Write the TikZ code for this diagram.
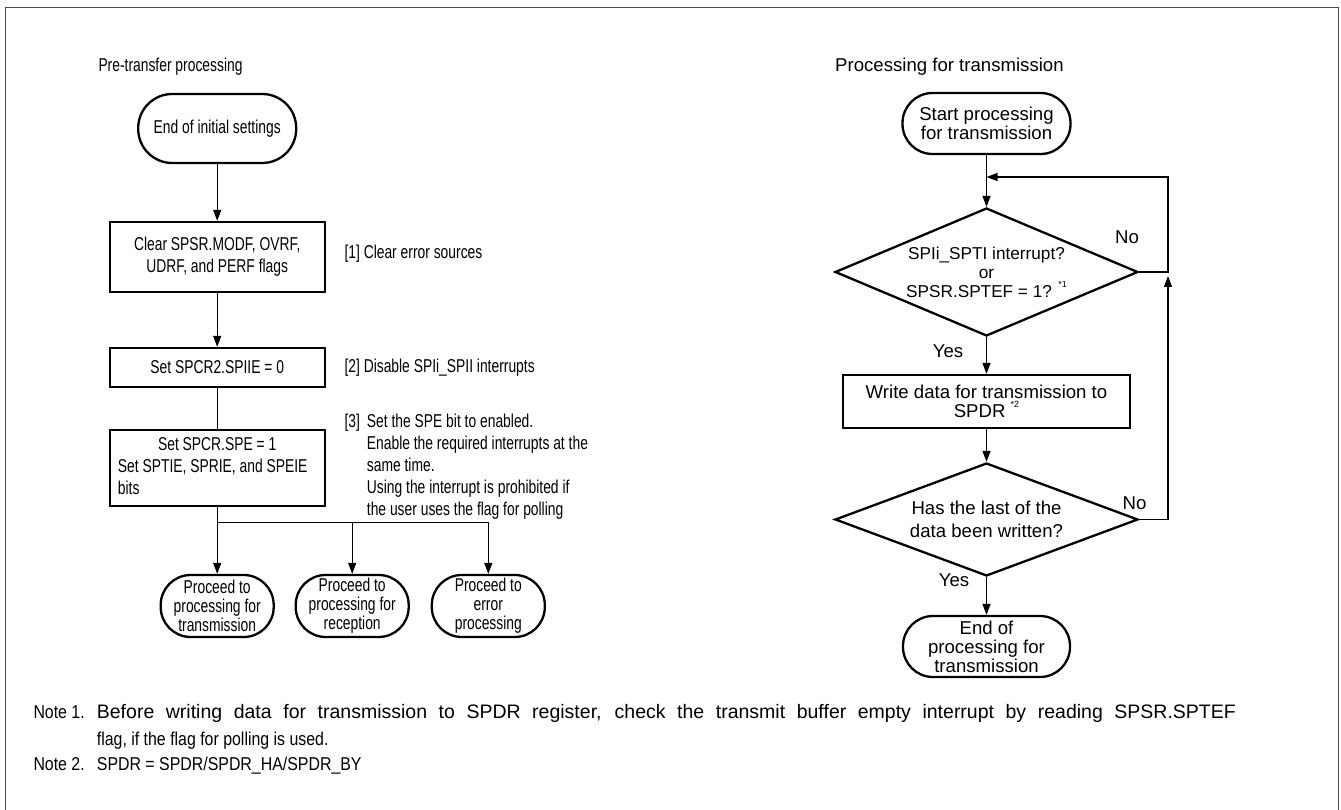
\documentclass[tikz,border=0pt]{standalone}
\usepackage{fontspec}
\setmainfont{Liberation Sans}
\newfontfamily\narrowfont[FakeStretch=0.745]{Liberation Sans}
\newfontfamily\notefont[FakeStretch=0.855]{Liberation Sans}
\usepackage{tikz}
\usetikzlibrary{calc, positioning, arrows.meta, shapes.geometric}
\definecolor{ink}{HTML}{000000}
\definecolor{rim}{HTML}{4A4A4A}
\newcommand{\fnmark}[1]{\raisebox{0.55em}{\fontsize{9}{9}\selectfont #1}}

\begin{document}
\begin{tikzpicture}[x=1pt, y=-1pt, font=\fontsize{18.6}{22}\selectfont,
    >={Triangle[length=11pt,width=8pt]},
    box/.style={draw=ink, line width=2.3pt, inner sep=0pt, align=center},
    term/.style={draw=ink, line width=2.3pt, rounded corners=30pt, inner sep=0pt, align=center},
    decide/.style={draw=ink, diamond, line width=2.3pt, inner sep=0pt, minimum width=303pt, align=center},
    slim/.style={font=\narrowfont\fontsize{18.6}{22}\selectfont},
    slimtight/.style={font=\narrowfont\fontsize{18.6}{19}\selectfont},
    tight/.style={font=\fontsize{18.6}{19}\selectfont},
    notetext/.style={inner sep=0pt, anchor=base west, font=\notefont\fontsize{18.6}{22}\selectfont},
    flow/.style={draw=ink, line width=1.2pt},
    plain/.style={inner sep=0pt}]
    \useasboundingbox (0,0) rectangle (1341,810);
    \draw[rim, line width=1.6pt] (5.5,812) -- (5.5,7.5) -- (1338.5,7.5) -- (1338.5,812);

    \node[plain, slim, anchor=base west] (tpre) at (98.3,71.6) {Pre-transfer processing};
    \node[term, slim, rounded corners=34pt, minimum width=158pt, minimum height=69pt] (start)
      at (217.2,128.5) {End of initial settings};
    \node[box, slim, minimum width=215pt, minimum height=70pt] (clr) at (217.2,257)
      {Clear SPSR.MODF, OVRF,\\UDRF, and PERF flags};
    \node[box, slim, minimum width=215pt, minimum height=39pt] (dis) at (217.2,367.5)
      {Set SPCR2.SPIIE = 0};
    \node[box, slim, minimum width=215pt, minimum height=76pt] (spe) at (217.2,468)
      {\begin{tabular}{@{}l@{\hspace{9pt}}}\multicolumn{1}{@{}c@{\hspace{9pt}}}{\hspace{9pt}Set SPCR.SPE = 1}\\
        Set SPTIE, SPRIE, and SPEIE\\bits\end{tabular}};
    \node[plain, slim, anchor=base west] (lclr) at (344.3,258.6) {[1] Clear error sources};
    \node[plain, slim, anchor=base west] (ldis) at (344.3,372.5) {[2] Disable SPIi\_SPII interrupts};
    \node[plain, slim, anchor=north west] (lspe) at (344.3,412.2)
      {\begin{tabular}{@{}l@{\hspace{7pt}}l@{}}[3] & Set the SPE bit to enabled.\\
        & Enable the required interrupts at the\\
        & same time.\\
        & Using the interrupt is prohibited if\\
        & the user uses the flag for polling\end{tabular}};
    \coordinate (split) at (217.2,522.7);
    \node[term, slimtight, minimum width=113pt, minimum height=62pt] (ptx) at (217.2,606)
      {Proceed to\\processing for\\transmission};
    \node[term, slimtight, minimum width=113pt, minimum height=62pt] (prx) at (352.2,606)
      {Proceed to\\processing for\\reception};
    \node[term, slimtight, minimum width=113pt, minimum height=62pt] (perr) at (488.3,606)
      {Proceed to\\error\\processing};

    \node[plain, anchor=base west] (ttx) at (835,71.6) {Processing for transmission};
    \node[term, tight, minimum width=168pt, minimum height=61pt] (tstart) at (986.5,123.5)
      {Start processing\\for transmission};
    \node[decide, aspect=2.37, minimum height=128pt, font=\fontsize{17.2}{19}\selectfont] (dchk)
      at (986.5,272) {SPIi\_SPTI interrupt?\\or\\SPSR.SPTEF = 1? \fnmark{*1}};
    \node[box, tight, minimum width=287pt, minimum height=53pt] (wr) at (986.5,401.5)
      {Write data for transmission to\\SPDR \fnmark{*2}};
    \node[decide, aspect=2.68, minimum height=113pt, font=\fontsize{18.6}{23}\selectfont] (dlast)
      at (986.5,519.5) {Has the last of the\\data been written?};
    \node[term, tight, minimum width=167pt, minimum height=61pt] (tend) at (986.5,646.5)
      {End of\\processing for\\transmission};
    \node[plain, anchor=base] (yes1) at (948,357) {Yes};
    \node[plain, anchor=base] (yes2) at (954,586) {Yes};
    \node[plain, anchor=base] (no1) at (1127,243.3) {No};
    \node[plain, anchor=base] (no2) at (1134.5,509.3) {No};
    \coordinate (back) at (1168,177);
    \coordinate (join) at (986.5,177);

    \node[notetext] (n1) at (33.3,718.3) {Note 1.};
    \node[plain, anchor=base west, font=\fontsize{19.5}{22}\selectfont] (n1a) at (96.7,718.3)
      {\makebox[1139pt][s]{Before writing data for transmission to SPDR register, check the transmit buffer empty interrupt by reading SPSR.SPTEF}};
    \node[notetext] (n1b) at (96.7,745) {flag, if the flag for polling is used.};
    \node[notetext] (n2) at (33.3,770) {Note 2.};
    \node[notetext] (n2a) at (96.7,770) {SPDR = SPDR/SPDR\_HA/SPDR\_BY};

    \draw[flow, ->] (start) -- (clr);
    \draw[flow, ->] (clr) -- (dis);
    \draw[flow] (dis) -- (spe);
    \draw[flow] (spe) -- (split);
    \draw[flow, ->] (split) -- (ptx);
    \draw[flow, ->] (split) -| (prx);
    \draw[flow, ->] (split) -| (perr);
    \draw[flow, ->] (tstart) -- (dchk);
    \draw[flow, ->] (dchk) -- (wr);
    \draw[flow, ->] (wr) -- (dlast);
    \draw[flow, ->] (dlast) -- (tend);
    \draw[flow, ->] (dchk.east) -| (back) -- (join);
    \draw[flow, ->] (dlast.east) -| ([yshift=-4pt]back |- dchk.east);
  \end{tikzpicture}
\end{document}
